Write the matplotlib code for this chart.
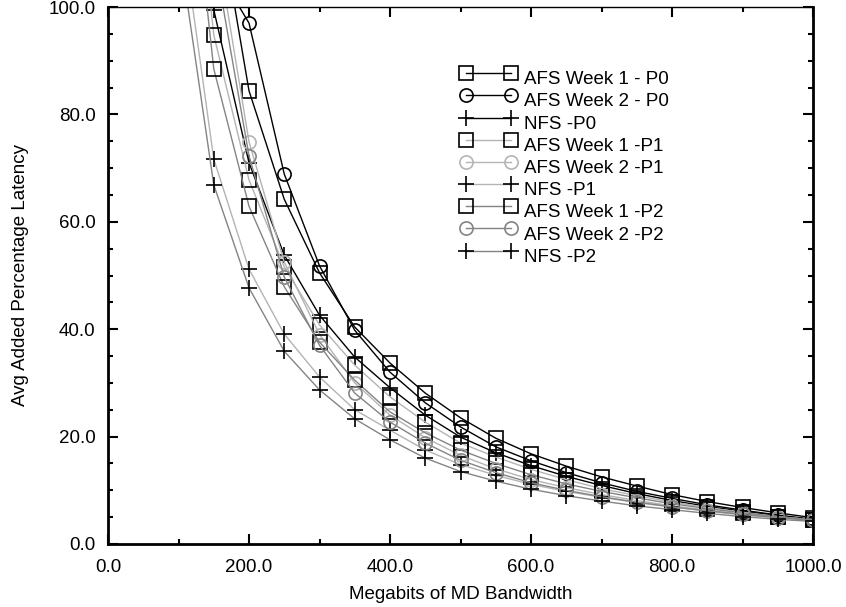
import matplotlib
matplotlib.use("Agg")
import matplotlib.pyplot as plt
from matplotlib.ticker import MultipleLocator, FormatStrFormatter

plt.rcParams['font.family'] = ['Liberation Sans', 'DejaVu Sans']

# bandwidth (Mbit) sampled every 50; first points lie above the plotted range
bandwidth = [100, 150, 200, 250, 300, 350, 400, 450, 500, 550,
             600, 650, 700, 750, 800, 850, 900, 950, 1000]

afs_w1_p0 = [227, 123, 84.4, 64.2, 50.5, 40.4, 33.7, 28.1, 23.5, 19.7,
             16.8, 14.5, 12.5, 10.8, 9.2, 7.9, 6.8, 5.8, 4.9]
afs_w2_p0 = [160, 108, 97.0, 68.9, 51.8, 39.8, 32.0, 26.3, 21.8, 18.1,
             15.5, 13.3, 11.4, 9.8, 8.5, 7.3, 6.3, 5.4, 4.6]
nfs_p0 = [166, 99.5, 71.0, 53.8, 42.6, 34.8, 29.1, 24.0, 19.9, 17.0,
          14.6, 12.6, 10.9, 9.4, 8.1, 7.0, 6.1, 5.3, 4.5]
afs_w1_p1 = [157, 94.8, 67.8, 51.6, 40.8, 33.3, 27.4, 22.7, 18.8, 16.2,
             13.9, 12.0, 10.3, 9.0, 7.8, 6.8, 5.9, 5.1, 4.5]
afs_w2_p1 = [300, 115, 74.9, 52.5, 39.0, 30.0, 24.0, 19.8, 16.5, 14.0,
             12.0, 10.5, 9.2, 8.1, 7.1, 6.3, 5.6, 5.0, 4.5]
nfs_p1 = [119, 71.7, 51.2, 39.1, 31.1, 25.0, 21.2, 17.5, 14.8, 12.8,
          11.1, 9.8, 8.7, 7.7, 6.9, 6.1, 5.4, 4.9, 4.4]
afs_w1_p2 = [149, 88.5, 62.9, 47.9, 37.6, 30.5, 24.6, 20.7, 17.5, 15.0,
             12.9, 11.2, 9.8, 8.6, 7.5, 6.6, 5.8, 5.1, 4.5]
afs_w2_p2 = [280, 110, 72.3, 49.7, 37.0, 28.1, 22.7, 18.8, 15.6, 13.3,
             11.4, 10.0, 8.8, 7.8, 6.9, 6.2, 5.5, 4.9, 4.4]
nfs_p2 = [112, 66.9, 47.7, 35.9, 28.7, 23.3, 19.4, 16.0, 13.5, 11.7,
          10.2, 9.0, 8.0, 7.1, 6.4, 5.7, 5.1, 4.6, 4.2]

labels = ["AFS Week 1 - P0", "AFS Week 2 - P0", "NFS -P0",
          "AFS Week 1 -P1", "AFS Week 2 -P1", "NFS -P1",
          "AFS Week 1 -P2", "AFS Week 2 -P2", "NFS -P2"]

LIGHT = '#b4b4b4'
MID = '#848484'

# (values, marker, line colour, marker colour)
series = [
    (afs_w1_p0, 's', 'black', 'black'),
    (afs_w2_p0, 'o', 'black', 'black'),
    (nfs_p0, '+', 'black', 'black'),
    (afs_w1_p1, 's', LIGHT, 'black'),
    (afs_w2_p1, 'o', LIGHT, LIGHT),
    (nfs_p1, '+', LIGHT, 'black'),
    (afs_w1_p2, 's', MID, 'black'),
    (afs_w2_p2, 'o', MID, MID),
    (nfs_p2, '+', MID, 'black'),
]

FS = 13.5

fig = plt.figure(figsize=(8.46, 6.07), dpi=100)
ax = fig.add_axes([108 / 846, 1 - 544 / 607, 705 / 846, 537 / 607])

for (vals, mk, lc, mc), lab in zip(series, labels):
    ms = 12 if mk == '+' else 9.5
    ax.plot(bandwidth, vals, color=lc, linewidth=1.0, marker=mk,
            markersize=ms, markerfacecolor='none', markeredgecolor=mc,
            markeredgewidth=1.2, label=lab)

ax.set_xlim(0, 1000)
ax.set_ylim(0, 100)
ax.xaxis.set_major_locator(MultipleLocator(200))
ax.xaxis.set_minor_locator(MultipleLocator(100))
ax.yaxis.set_major_locator(MultipleLocator(20))
ax.yaxis.set_minor_locator(MultipleLocator(5))
ax.xaxis.set_major_formatter(FormatStrFormatter('%.1f'))
ax.yaxis.set_major_formatter(FormatStrFormatter('%.1f'))

ax.tick_params(which='both', direction='in', top=True, right=True,
               labelsize=FS, width=1.5, colors='black')
ax.tick_params(which='major', length=7)
ax.tick_params(which='minor', length=3.5)
ax.tick_params(axis='y', pad=9)
ax.tick_params(axis='x', pad=11)

for side in ['left', 'bottom', 'right']:
    ax.spines[side].set_linewidth(2)
ax.spines['top'].set_linewidth(1)

ax.set_xlabel('Megabits of MD Bandwidth', fontsize=FS, labelpad=7)
ax.set_ylabel('Avg Added Percentage Latency', fontsize=FS, labelpad=14)

leg = ax.legend(loc='upper left', bbox_to_anchor=(0.5, 0.889), frameon=False,
                fontsize=FS, numpoints=2, handlelength=3.0,
                handletextpad=0.4, labelspacing=0.27, borderpad=0,
                borderaxespad=0)
for t in leg.get_texts():
    t.set_va('center')

fig.savefig('out.png', dpi=100)
